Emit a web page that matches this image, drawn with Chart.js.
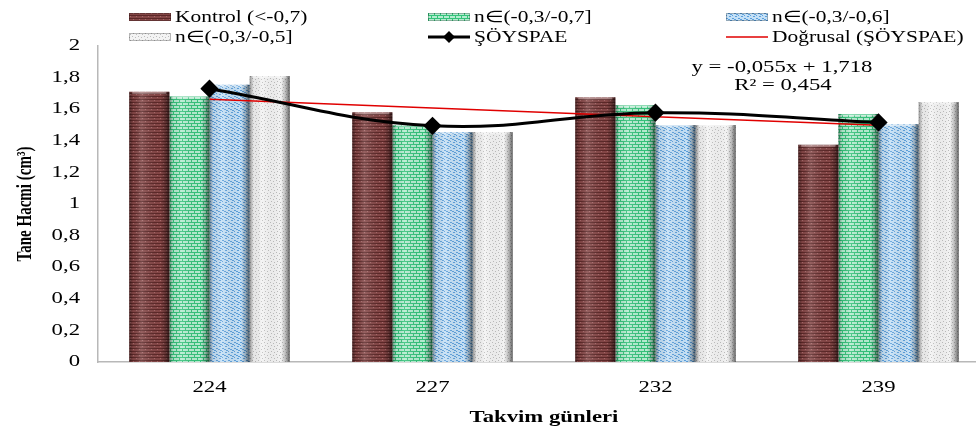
<!DOCTYPE html>
<html>
<head>
<meta charset="utf-8">
<script src="https://cdn.jsdelivr.net/npm/chart.js@4.4.1/dist/chart.umd.min.js"></script>
<style>
  html, body { margin: 0; padding: 0; background: #fff; overflow: hidden; }
  #wrap { width: 1000px; height: 430px; }
</style>
</head>
<body>
<div id="wrap"><canvas id="taneChart" width="1000" height="430"></canvas></div>
<script>
const gunler = ['224', '227', '232', '239'];
const kontrol = [1.71, 1.58, 1.675, 1.375];
const n07 = [1.68, 1.50, 1.625, 1.57];
const n06 = [1.755, 1.455, 1.50, 1.505];
const n05 = [1.81, 1.455, 1.50, 1.645];
const soyspae = [1.73, 1.495, 1.578, 1.516];
const dogrusal = [1.663, 1.608, 1.553, 1.498];
const yTicks = [0, 0.2, 0.4, 0.6, 0.8, 1, 1.2, 1.4, 1.6, 1.8, 2];

const serif = '"Liberation Serif", "Times New Roman", serif';
const SX = 1.42; // the original picture is stretched sideways, so is its text
const SX_LEG = 1.34;

function stretchText(ctx, text, x, y, align, sx) {
    ctx.save();
    ctx.translate(x, y);
    ctx.scale(sx, 1);
    ctx.textAlign = align;
    ctx.fillText(text, 0, 0);
    ctx.restore();
}

// small textured tiles for the bars
function makePattern(base, draw) {
    const c = document.createElement('canvas');
    c.width = 6; c.height = 6;
    const g = c.getContext('2d');
    g.fillStyle = base;
    g.fillRect(0, 0, 6, 6);
    draw(g);
    return g.createPattern(c, 'repeat');
}
const pKontrol = makePattern('#844646', g => {
    g.fillStyle = '#5c2828';
    g.fillRect(0, 0, 6, 1); g.fillRect(0, 3, 6, 1);
    g.fillStyle = '#a66b6b';
    g.fillRect(1, 1, 1, 1); g.fillRect(4, 4, 1, 1);
});
const pYesil = makePattern('#b4ecd0', g => {
    g.fillStyle = '#34c27a';
    g.fillRect(0, 0, 6, 1); g.fillRect(0, 3, 6, 1);
    g.fillRect(2, 1, 1, 2); g.fillRect(5, 4, 1, 2);
});
const pMavi = makePattern('#c4e0f6', g => {
    g.fillStyle = '#5c9fdb';
    g.fillRect(0, 0, 2, 1); g.fillRect(2, 1, 2, 1); g.fillRect(4, 2, 2, 1);
    g.fillRect(0, 3, 1, 1); g.fillRect(3, 4, 2, 1);
});
const pBeyaz = makePattern('#f3f3f3', g => {
    g.fillStyle = '#bdbdbd';
    g.fillRect(0, 0, 1, 1); g.fillRect(3, 1, 1, 1); g.fillRect(1, 3, 1, 1); g.fillRect(4, 4, 1, 1);
});

// cylinder-like shading on each bar
const barShade = {
    id: 'barShade',
    afterDatasetDraw(chart, args) {
        if (args.meta.type !== 'bar') return;
        const ctx = chart.ctx;
        ctx.save();
        args.meta.data.forEach(bar => {
            const l = bar.x - bar.width / 2, r = bar.x + bar.width / 2;
            const gr = ctx.createLinearGradient(l, 0, r, 0);
            gr.addColorStop(0, 'rgba(0,0,0,0.4)');
            gr.addColorStop(0.1, 'rgba(0,0,0,0.05)');
            gr.addColorStop(0.3, 'rgba(255,255,255,0.15)');
            gr.addColorStop(0.78, 'rgba(0,0,0,0.0)');
            gr.addColorStop(0.9, 'rgba(0,0,0,0.25)');
            gr.addColorStop(1, 'rgba(0,0,0,0.6)');
            ctx.fillStyle = gr;
            ctx.fillRect(l, bar.y, bar.width, bar.base - bar.y);
            ctx.fillStyle = 'rgba(255,255,255,0.35)';
            ctx.fillRect(l + 3, bar.y, bar.width - 6, 2);
        });
        ctx.restore();
    }
};

// axis labels, legend grid and equation, drawn with the same sideways stretch
const extras = {
    id: 'extras',
    afterDraw(chart) {
        const ctx = chart.ctx;
        const xs = chart.scales.x, ys = chart.scales.y;
        ctx.save();
        ctx.fillStyle = '#000';
        ctx.textBaseline = 'middle';

        ctx.font = '16px ' + serif;
        xs.ticks.forEach((t, i) => stretchText(ctx, gunler[i], xs.getPixelForTick(i), 388, 'center', SX));
        ys.ticks.forEach(t => {
            const lbl = String(Math.round(t.value * 10) / 10).replace('.', ',');
            stretchText(ctx, lbl, 80, ys.getPixelForValue(t.value), 'right', SX);
        });

        ctx.font = 'bold 16px ' + serif;
        stretchText(ctx, 'Takvim günleri', (chart.chartArea.left + chart.chartArea.right) / 2, 418, 'center', SX);

        ctx.save();
        ctx.translate(25, (chart.chartArea.top + chart.chartArea.bottom) / 2);
        ctx.rotate(-Math.PI / 2);
        ctx.scale(1, SX);
        ctx.font = 'bold 15px ' + serif;
        ctx.textAlign = 'center';
        ctx.fillText('Tane Hacmi (cm\u00B3)', 0, 0);
        ctx.restore();

        const cols = [129, 428, 726];
        const rows = [17, 37];
        const items = [
            { t: 'Kontrol (<-0,7)', fill: pKontrol },
            { t: 'n\u2208(-0,3/-0,7]', fill: pYesil },
            { t: 'n\u2208(-0,3/-0,6]', fill: pMavi },
            { t: 'n\u2208(-0,3/-0,5]', fill: pBeyaz },
            { t: '\u015E\u00D6YSPAE', line: '#000' },
            { t: 'Do\u011Frusal (\u015E\u00D6YSPAE)', line: '#e00000' }
        ];
        ctx.font = '16px ' + serif;
        items.forEach((it, i) => {
            const x = cols[i % 3], y = rows[Math.floor(i / 3)];
            if (it.fill) {
                ctx.fillStyle = it.fill;
                ctx.fillRect(x, y - 4, 42, 8);
                ctx.strokeStyle = 'rgba(0,0,0,0.25)';
                ctx.lineWidth = 1;
                ctx.strokeRect(x + 0.5, y - 3.5, 41, 7);
            } else if (i === 4) {
                ctx.strokeStyle = '#000';
                ctx.lineWidth = 3;
                ctx.beginPath(); ctx.moveTo(x, y); ctx.lineTo(x + 42, y); ctx.stroke();
                ctx.fillStyle = '#000';
                ctx.beginPath();
                ctx.moveTo(x + 21, y - 6); ctx.lineTo(x + 27, y); ctx.lineTo(x + 21, y + 6); ctx.lineTo(x + 15, y);
                ctx.closePath(); ctx.fill();
            } else {
                ctx.strokeStyle = it.line;
                ctx.lineWidth = 1.5;
                ctx.beginPath(); ctx.moveTo(x, y); ctx.lineTo(x + 42, y); ctx.stroke();
            }
            ctx.fillStyle = '#000';
            stretchText(ctx, it.t, x + 46, y + 1, 'left', SX_LEG);
        });

        stretchText(ctx, 'y = -0,055x + 1,718', 782, 68, 'center', SX);
        stretchText(ctx, 'R\u00B2 = 0,454', 783, 86, 'center', SX);
        ctx.restore();
    }
};

const ctx = document.getElementById('taneChart').getContext('2d');
const taneChart = new Chart(ctx, {
    data: {
        labels: gunler,
        datasets: [
            { type: 'bar', label: 'Kontrol (<-0,7)', data: kontrol, backgroundColor: pKontrol, order: 2 },
            { type: 'bar', label: 'n\u2208(-0,3/-0,7]', data: n07, backgroundColor: pYesil, order: 2 },
            { type: 'bar', label: 'n\u2208(-0,3/-0,6]', data: n06, backgroundColor: pMavi, order: 2 },
            { type: 'bar', label: 'n\u2208(-0,3/-0,5]', data: n05, backgroundColor: pBeyaz, order: 2 },
            {
                type: 'line', label: 'Do\u011Frusal (\u015E\u00D6YSPAE)', data: dogrusal,
                borderColor: '#e00000', borderWidth: 1.5, pointRadius: 0, tension: 0, order: 1
            },
            {
                type: 'line', label: '\u015E\u00D6YSPAE', data: soyspae,
                borderColor: '#000', borderWidth: 3, tension: 0.4,
                pointStyle: 'rectRot', pointRadius: 7, pointBackgroundColor: '#000', pointBorderColor: '#000',
                order: 0
            }
        ]
    },
    options: {
        responsive: false,
        devicePixelRatio: 1,
        animation: false,
        layout: { padding: { top: 46, right: 10, left: 0, bottom: 0 } },
        datasets: { bar: { barPercentage: 1, categoryPercentage: 0.72 } },
        plugins: { legend: { display: false }, tooltip: { enabled: false } },
        scales: {
            x: {
                grid: { display: false, drawTicks: false },
                border: { display: true, color: '#b8b8b8', width: 1.5 },
                ticks: { display: false },
                afterFit(s) { s.height = 68; }
            },
            y: {
                min: 0, max: 2,
                afterBuildTicks(s) { s.ticks = yTicks.map(v => ({ value: v })); },
                grid: { display: false, drawTicks: false },
                border: { display: true, color: '#b8b8b8', width: 1.5 },
                ticks: { display: false },
                afterFit(s) { s.width = 98; }
            }
        }
    },
    plugins: [barShade, extras]
});
</script>
</body>
</html>
